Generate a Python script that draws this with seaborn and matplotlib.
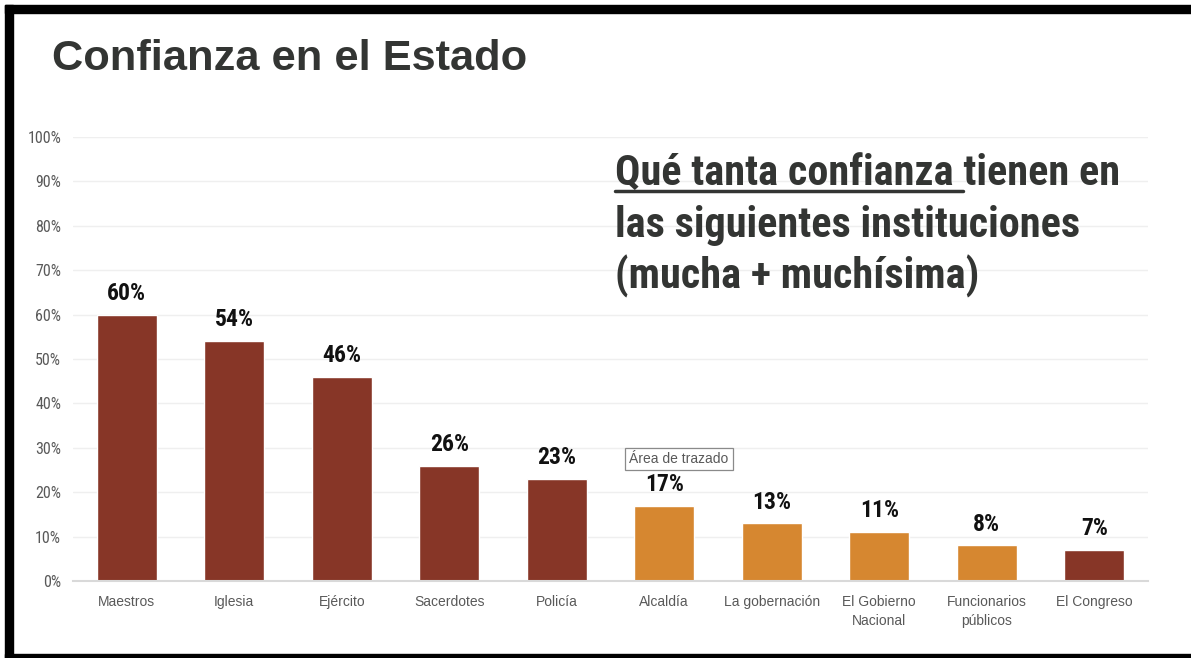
import matplotlib
matplotlib.use("Agg")
import matplotlib.pyplot as plt
import matplotlib.patches as mpatches
import matplotlib.lines as mlines
from matplotlib import font_manager
import seaborn as sns
import pandas as pd

instituciones = ["Maestros", "Iglesia", "Ejército", "Sacerdotes", "Policía",
                 "Alcaldía", "La gobernación", "El Gobierno\nNacional",
                 "Funcionarios\npúblicos", "El Congreso"]
confianza = [0.60, 0.54, 0.46, 0.26, 0.23, 0.17, 0.13, 0.11, 0.08, 0.07]
grupo = ["a", "a", "a", "a", "a", "b", "b", "b", "b", "a"]
colores = {"a": "#873627", "b": "#D68730"}
yticks = [0, 0.1, 0.2, 0.3, 0.4, 0.5, 0.6, 0.7, 0.8, 0.9, 1.0]
ytick_labels = [f"{int(round(v * 100))}%" for v in yticks]
lineas = ["Qué tanta confianza tienen en", "las siguientes instituciones",
          "(mucha + muchísima)"]

W, H = 1191, 658

sns.set_theme(style="white")
plt.rcParams["font.family"] = ["Liberation Sans", "DejaVu Sans"]

# look for a condensed family, otherwise plain Liberation Sans
installed = {f.name for f in font_manager.fontManager.ttflist}
narrow = ["Liberation Sans", "DejaVu Sans"]
for cand in ["Liberation Sans Narrow", "Arial Narrow", "Roboto Condensed",
             "Open Sans Condensed", "DejaVu Sans Condensed"]:
    if cand in installed:
        narrow = [cand, "Liberation Sans", "DejaVu Sans"]
        break

df = pd.DataFrame({"inst": instituciones, "val": confianza, "grupo": grupo})

fig = plt.figure(figsize=(W / 100, H / 100), dpi=100)
ax = fig.add_axes([73 / W, 1 - 581 / H, (1148 - 73) / W, (581 - 137) / H])

sns.barplot(data=df, x="inst", y="val", hue="grupo", palette=colores,
            dodge=False, width=0.56, legend=False, ax=ax, saturation=1)

ax.set_ylim(0, 1.0)
ax.set_xlim(-0.5, len(instituciones) - 0.5)
ax.set_yticks(yticks)
ax.set_yticklabels(ytick_labels, family=narrow, fontsize=11.5, color="#595959")
ax.set_xticks(range(len(instituciones)))
ax.set_xticklabels(instituciones, fontsize=10, color="#595959", linespacing=1.45)
ax.tick_params(axis="both", length=0)
ax.tick_params(axis="y", pad=8.5)
ax.tick_params(axis="x", pad=10)
ax.set_xlabel("")
ax.set_ylabel("")
ax.grid(axis="y", color="#efefef", linewidth=1)
ax.set_axisbelow(True)
for s in ["top", "right", "left"]:
    ax.spines[s].set_visible(False)
ax.spines["bottom"].set_color("#d9d9d9")
ax.spines["bottom"].set_linewidth(1.5)

for i, v in enumerate(confianza):
    ax.text(i, v + 0.022, f"{int(round(v * 100))}%", ha="center", va="bottom",
            fontsize=17, fontweight="bold", family=narrow, color="#111111")

# title
fig.text(52 / W, 1 - 70 / H, "Confianza en el Estado", fontsize=31.2,
         fontweight="bold", color="#333533", ha="left", va="baseline")

# annotation block, sized so the first line spans the same width as the reference
renderer = fig.canvas.get_renderer()
x0 = 615 / W
probe = fig.text(x0, 0.5, lineas[0], fontsize=30, fontweight="bold", family=narrow)
w30 = probe.get_window_extent(renderer=renderer).width
probe.remove()
fs = 30 * (1120 - 615) / w30

bases = [185, 237, 288]
for txt, b in zip(lineas, bases):
    fig.text(x0, 1 - b / H, txt, fontsize=fs, fontweight="bold",
             family=narrow, color="#333533", ha="left", va="baseline")

# underline under "Qué tanta confianza " (up to where "tienen" starts)
probe = fig.text(x0, 0.5, "Qué tanta confianza", fontsize=fs, fontweight="bold",
                 family=narrow)
wq = probe.get_window_extent(renderer=renderer).width
probe.remove()
probe = fig.text(x0, 0.5, "a a", fontsize=fs, fontweight="bold", family=narrow)
w1 = probe.get_window_extent(renderer=renderer).width
probe.remove()
probe = fig.text(x0, 0.5, "aa", fontsize=fs, fontweight="bold", family=narrow)
w2 = probe.get_window_extent(renderer=renderer).width
probe.remove()
x_end = 615 + wq + (w1 - w2)
fig.add_artist(mlines.Line2D([x0, x_end / W], [1 - 191 / H, 1 - 191 / H],
                             color="#333533", linewidth=2.5))

# tooltip
fig.text(629 / W, 1 - 459 / H, "Área de trazado", fontsize=10,
         color="#595959", ha="left", va="center",
         bbox=dict(boxstyle="square,pad=0.32", facecolor="white",
                   edgecolor="#8a8a8a", linewidth=0.9))

# black frame
fig.add_artist(mpatches.Rectangle((5 / W, 1 - 13 / H), 1, 8 / H,
                                  color="black", transform=fig.transFigure))
fig.add_artist(mpatches.Rectangle((5 / W, 0), 8 / W, 1 - 5 / H,
                                  color="black", transform=fig.transFigure))
fig.add_artist(mpatches.Rectangle((5 / W, 0), 1, 4 / H,
                                  color="black", transform=fig.transFigure))

fig.savefig("out.png", dpi=100)
